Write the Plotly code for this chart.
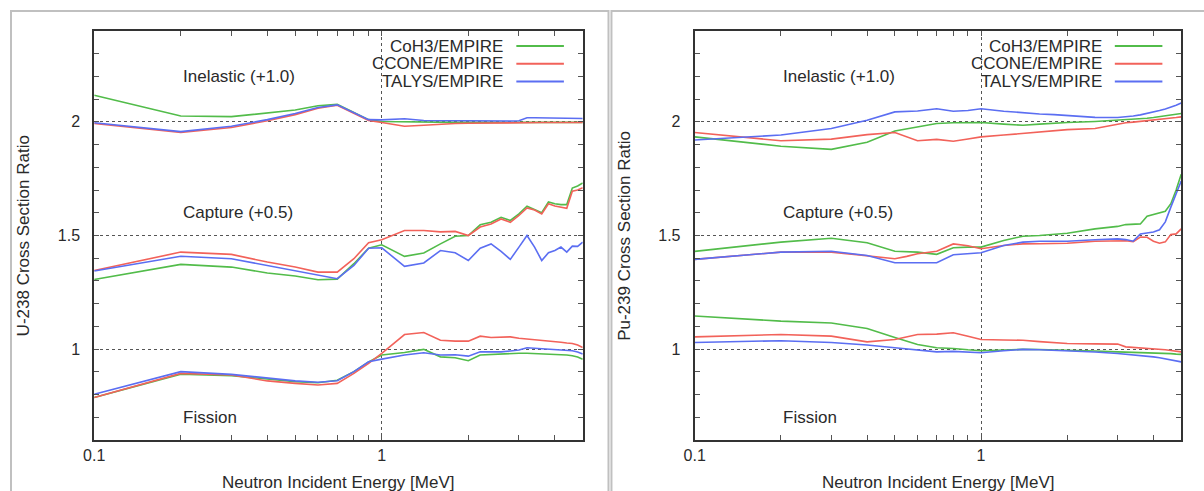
import numpy as np
import plotly.graph_objects as go

W, H = 1204, 491

# ---------------- data ----------------
# U-238 (left panel)
energy_u238 = [0.1, 0.2, 0.3, 0.4, 0.5, 0.6, 0.7, 0.8, 0.9, 1.0, 1.2, 1.4, 1.6, 1.8, 2.0,
               2.2, 2.4, 2.6, 2.8, 3.0, 3.2, 3.4, 3.6, 3.8, 4.0, 4.2, 4.4, 4.6, 4.8, 5.0]

u238_inel_coh3 = [2.117, 2.026, 2.023, 2.038, 2.052, 2.071, 2.077, 2.042, 2.010, 2.002, 2.000, 1.999,
                  1.999, 1.998, 1.998, 1.998, 1.998, 1.998, 1.998, 1.998, 1.998, 1.998, 1.998, 1.998,
                  1.998, 1.998, 1.998, 1.998, 1.998, 1.998]
u238_inel_ccone = [1.993, 1.954, 1.975, 2.005, 2.032, 2.060, 2.073, 2.038, 2.006, 1.997, 1.981, 1.985,
                   1.990, 1.993, 1.994, 1.995, 1.995, 1.996, 1.996, 1.996, 1.997, 1.997, 1.997, 1.997,
                   1.997, 1.997, 1.997, 1.997, 1.997, 1.997]
u238_inel_talys = [1.996, 1.957, 1.981, 2.010, 2.037, 2.063, 2.075, 2.040, 2.010, 2.009, 2.014, 2.006,
                   2.005, 2.004, 2.004, 2.004, 2.004, 2.004, 2.004, 2.005, 2.018, 2.018, 2.018, 2.018,
                   2.017, 2.017, 2.016, 2.016, 2.015, 2.015]

u238_capt_coh3 = [1.306, 1.373, 1.361, 1.335, 1.322, 1.305, 1.308, 1.376, 1.444, 1.459, 1.408, 1.423,
                  1.463, 1.497, 1.500, 1.547, 1.558, 1.580, 1.566, 1.595, 1.629, 1.615, 1.600, 1.648,
                  1.640, 1.636, 1.636, 1.709, 1.718, 1.731]
u238_capt_ccone = [1.346, 1.427, 1.417, 1.383, 1.361, 1.339, 1.339, 1.398, 1.468, 1.481, 1.522, 1.522,
                   1.516, 1.518, 1.500, 1.537, 1.551, 1.573, 1.558, 1.588, 1.621, 1.612, 1.595, 1.640,
                   1.630, 1.625, 1.620, 1.695, 1.700, 1.710]
u238_capt_talys = [1.344, 1.409, 1.398, 1.368, 1.346, 1.325, 1.310, 1.368, 1.444, 1.446, 1.364, 1.379,
                   1.434, 1.424, 1.390, 1.444, 1.463, 1.430, 1.395, 1.449, 1.500, 1.449, 1.390, 1.424,
                   1.434, 1.449, 1.427, 1.453, 1.452, 1.471]

u238_fiss_coh3 = [0.787, 0.890, 0.883, 0.867, 0.857, 0.852, 0.863, 0.901, 0.944, 0.974, 0.985, 0.999,
                  0.966, 0.962, 0.949, 0.974, 0.977, 0.980, 0.982, 0.982, 0.982, 0.981, 0.980, 0.979,
                  0.978, 0.976, 0.974, 0.971, 0.965, 0.955]
u238_fiss_ccone = [0.787, 0.893, 0.886, 0.860, 0.849, 0.842, 0.849, 0.893, 0.937, 0.981, 1.064, 1.073,
                   1.039, 1.035, 1.035, 1.057, 1.051, 1.051, 1.054, 1.048, 1.045, 1.042, 1.040, 1.037,
                   1.032, 1.030, 1.027, 1.025, 1.018, 1.007]
u238_fiss_talys = [0.801, 0.901, 0.889, 0.871, 0.860, 0.854, 0.861, 0.901, 0.944, 0.956, 0.974, 0.984,
                   0.974, 0.975, 0.969, 0.988, 0.988, 0.988, 0.992, 0.996, 1.006, 1.004, 1.003, 1.001,
                   0.999, 0.997, 0.995, 0.993, 0.987, 0.978]

# Pu-239 (right panel)
energy_pu239 = [0.1, 0.2, 0.3, 0.4, 0.5, 0.55, 0.6, 0.7, 0.8, 0.9, 1.0, 1.2, 1.4, 1.6, 1.8, 2.0,
                2.5, 3.0, 3.2, 3.4, 3.6, 3.8, 4.0, 4.2, 4.4, 4.6, 4.8, 5.0]

pu239_inel_coh3 = [1.934, 1.893, 1.879, 1.910, 1.960, 1.970, 1.978, 1.993, 1.996, 1.996, 1.997, 1.990,
                   1.985, 1.990, 1.995, 1.997, 2.002, 2.007, 2.009, 2.012, 2.014, 2.016, 2.019, 2.023,
                   2.026, 2.030, 2.033, 2.037]
pu239_inel_ccone = [1.953, 1.917, 1.924, 1.944, 1.953, 1.935, 1.917, 1.923, 1.915, 1.925, 1.934, 1.942,
                    1.949, 1.955, 1.960, 1.966, 1.971, 1.990, 1.996, 1.999, 2.002, 2.004, 2.007, 2.010,
                    2.013, 2.016, 2.019, 2.022]
pu239_inel_talys = [1.920, 1.942, 1.971, 2.007, 2.044, 2.046, 2.048, 2.058, 2.047, 2.050, 2.058, 2.047,
                    2.039, 2.035, 2.032, 2.029, 2.020, 2.019, 2.021, 2.026, 2.031, 2.037, 2.044, 2.050,
                    2.057, 2.064, 2.073, 2.083]

pu239_capt_coh3 = [1.430, 1.471, 1.488, 1.468, 1.431, 1.429, 1.427, 1.417, 1.446, 1.449, 1.449, 1.478,
                   1.497, 1.500, 1.505, 1.510, 1.529, 1.540, 1.548, 1.550, 1.551, 1.585, 1.592, 1.600,
                   1.607, 1.640, 1.700, 1.770]
pu239_capt_ccone = [1.395, 1.427, 1.427, 1.412, 1.398, 1.408, 1.420, 1.431, 1.463, 1.455, 1.442, 1.456,
                    1.463, 1.464, 1.465, 1.466, 1.475, 1.478, 1.477, 1.473, 1.493, 1.492, 1.475, 1.466,
                    1.472, 1.504, 1.507, 1.529]
pu239_capt_talys = [1.395, 1.427, 1.431, 1.412, 1.380, 1.380, 1.380, 1.380, 1.415, 1.420, 1.424, 1.456,
                    1.471, 1.475, 1.475, 1.475, 1.481, 1.485, 1.482, 1.475, 1.507, 1.512, 1.515, 1.525,
                    1.560, 1.625, 1.680, 1.740]

pu239_fiss_coh3 = [1.146, 1.123, 1.115, 1.091, 1.051, 1.035, 1.020, 1.006, 1.003, 0.997, 0.993, 0.996,
                   0.999, 0.998, 0.997, 0.996, 0.992, 0.988, 0.987, 0.986, 0.985, 0.985, 0.984, 0.982,
                   0.981, 0.980, 0.978, 0.977]
pu239_fiss_ccone = [1.054, 1.064, 1.057, 1.032, 1.042, 1.053, 1.064, 1.066, 1.072, 1.057, 1.042, 1.040,
                    1.039, 1.033, 1.028, 1.025, 1.023, 1.022, 1.010, 1.008, 1.006, 1.004, 1.003, 1.000,
                    0.997, 0.994, 0.991, 0.988]
pu239_fiss_talys = [1.029, 1.037, 1.029, 1.018, 1.006, 1.001, 0.996, 0.988, 0.990, 0.987, 0.984, 0.993,
                    0.999, 0.997, 0.995, 0.993, 0.987, 0.981, 0.978, 0.976, 0.973, 0.970, 0.966, 0.962,
                    0.958, 0.953, 0.949, 0.944]

series_names = ["CoH3/EMPIRE", "CCONE/EMPIRE", "TALYS/EMPIRE"]
series_colors = ["#52bc4a", "#f2625a", "#5b6ef2"]
reaction_labels = ["Inelastic (+1.0)", "Capture (+0.5)", "Fission"]
reaction_label_y = [2.2, 1.6, 0.7]

x_major = [0.1, 1]
x_minor = [0.2, 0.3, 0.4, 0.5, 0.6, 0.7, 0.8, 0.9, 2, 3, 4]
y_major = [1, 1.5, 2]
y_minor = [round(v, 1) for v in np.arange(0.6, 2.41, 0.1) if round(v, 1) not in (1.0, 1.5, 2.0)]

panels = [
    dict(energy=energy_u238, ytitle="U-238 Cross Section Ratio",
         curves=[[u238_inel_coh3, u238_inel_ccone, u238_inel_talys],
                 [u238_capt_coh3, u238_capt_ccone, u238_capt_talys],
                 [u238_fiss_coh3, u238_fiss_ccone, u238_fiss_talys]],
         px=(84, 577), box=(0, 603)),
    dict(energy=energy_pu239, ytitle="Pu-239 Cross Section Ratio",
         curves=[[pu239_inel_coh3, pu239_inel_ccone, pu239_inel_talys],
                 [pu239_capt_coh3, pu239_capt_ccone, pu239_capt_talys],
                 [pu239_fiss_coh3, pu239_fiss_ccone, pu239_fiss_talys]],
         px=(690, 1181), box=(606, 1212)),
]

# ---------------- figure ----------------
FONT = "Liberation Sans, Arial, sans-serif"
TXT = "#2a2a2a"
plot_top, plot_bot = 31, 440
ydom = [1 - plot_bot / H, 1 - plot_top / H]

fig = go.Figure()
layout = dict(width=W, height=H, autosize=False, margin=dict(l=0, r=0, t=0, b=0),
              paper_bgcolor="white", plot_bgcolor="white", showlegend=False,
              font=dict(family=FONT, color=TXT, size=16))

for i, p in enumerate(panels):
    xa = "x" if i == 0 else f"x{i+1}"
    ya = "y" if i == 0 else f"y{i+1}"
    for reaction in p["curves"]:
        for name, color, vals in zip(series_names, series_colors, reaction):
            fig.add_trace(go.Scatter(x=p["energy"], y=vals, mode="lines", name=name,
                                     line=dict(color=color, width=1.6),
                                     xaxis=xa, yaxis=ya, hoverinfo="skip"))

    common = dict(showline=True, linecolor="#333333", linewidth=2, mirror="allticks",
                  ticks="inside", ticklen=5, tickwidth=1, tickcolor="#555555",
                  zeroline=False, showgrid=True, gridcolor="#555555", griddash="dot", gridwidth=1,
                  tickfont=dict(family=FONT, size=16, color=TXT))
    layout["xaxis" if i == 0 else f"xaxis{i+1}"] = dict(
        type="log", range=[-1, np.log10(5)],
        domain=[p["px"][0] / W, p["px"][1] / W], anchor=ya,
        tickmode="array", tickvals=x_major, ticktext=["0.1", "1"],
        minor=dict(tickvals=x_minor, ticks="inside", ticklen=5, tickcolor="#555555", showgrid=False),
        ticklabelstandoff=0, **common)
    layout["yaxis" if i == 0 else f"yaxis{i+1}"] = dict(
        range=[0.6, 2.4], domain=ydom, anchor=xa,
        tickmode="array", tickvals=y_major, ticktext=["1", "1.5", "2"],
        minor=dict(tickvals=y_minor, ticks="inside", ticklen=5, tickcolor="#555555", showgrid=False),
        ticklabelstandoff=9, **common)

    # panel frame
    fig.add_shape(type="rect", xref="paper", yref="paper",
                  x0=p["box"][0] / W, x1=p["box"][1] / W, y0=-0.2, y1=1 - 11 / H,
                  line=dict(color="#c0c0c0", width=2), fillcolor="rgba(0,0,0,0)", layer="below")

    # reaction labels
    for lab, ly in zip(reaction_labels, reaction_label_y):
        fig.add_annotation(x=np.log10(0.2), y=ly, xref=xa, yref=ya, text=lab, showarrow=False,
                           xanchor="left", yanchor="middle",
                           font=dict(family=FONT, size=17, color=TXT))

    # axis titles
    cx = (p["px"][0] + p["px"][1]) / 2
    fig.add_annotation(x=cx / W, y=1 - 482 / H, xref="paper", yref="paper",
                       text="Neutron Incident Energy [MeV]", showarrow=False,
                       xanchor="center", yanchor="middle",
                       font=dict(family=FONT, size=17, color=TXT))
    fig.add_annotation(x=(p["px"][0] - 71) / W, y=(ydom[0] + ydom[1]) / 2, xref="paper", yref="paper",
                       text=p["ytitle"], textangle=-90, showarrow=False,
                       xanchor="center", yanchor="middle",
                       font=dict(family=FONT, size=17, color=TXT))

    # legend (text on the left, line sample on the right)
    text_right = p["px"][1] - 78
    for k, (name, color) in enumerate(zip(series_names, series_colors)):
        yy = 1 - (46 + 17.7 * k) / H
        fig.add_annotation(x=text_right / W, y=yy, xref="paper", yref="paper", text=name,
                           showarrow=False, xanchor="right", yanchor="middle",
                           font=dict(family=FONT, size=17, color=TXT))
        fig.add_shape(type="line", xref="paper", yref="paper",
                      x0=(text_right + 11) / W, x1=(text_right + 59) / W, y0=yy, y1=yy,
                      line=dict(color=color, width=2))

fig.update_layout(**layout)
fig.write_html("out.html")
